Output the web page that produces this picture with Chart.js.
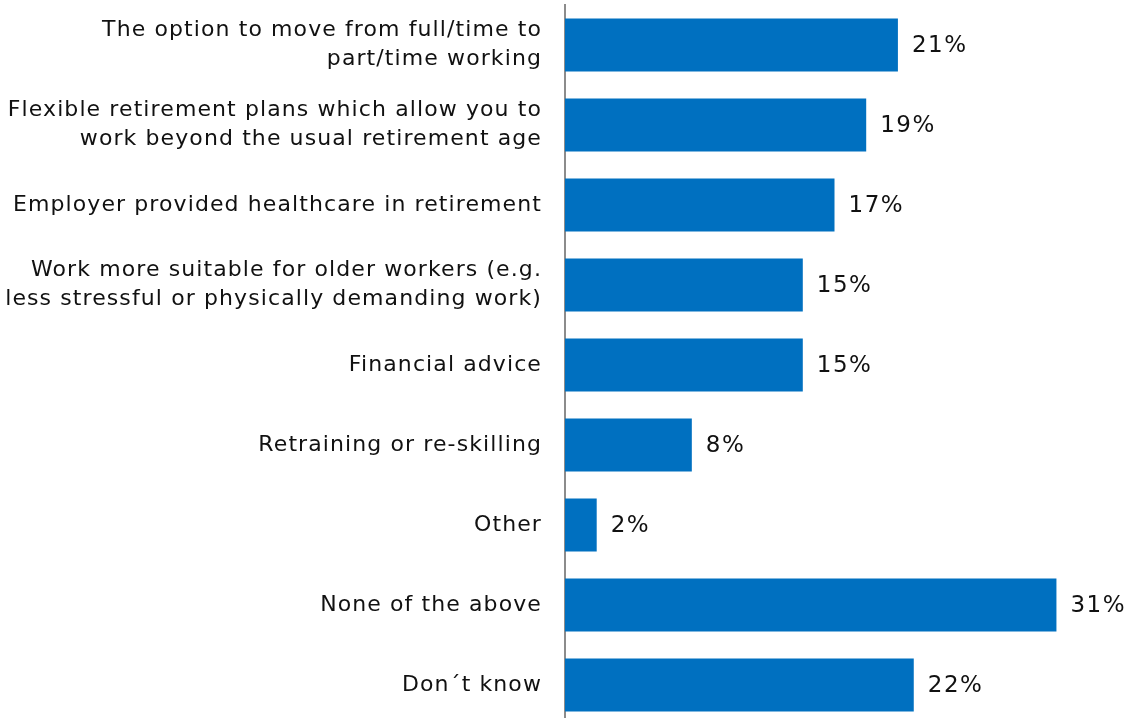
<!DOCTYPE html>
<html><head><meta charset="utf-8">
<script src="https://cdn.jsdelivr.net/npm/chart.js@4/dist/chart.umd.min.js"></script>
<style>html,body{margin:0;padding:0;background:#fff;overflow:hidden}</style>
</head><body>
<canvas id="c" width="1131" height="730"></canvas>
<script>
const categories = [
  ["The option to move from full/time to", "part/time working"],
  ["Flexible retirement plans which allow you to", "work beyond the usual retirement age"],
  "Employer provided healthcare in retirement",
  ["Work more suitable for older workers (e.g.", "less stressful or physically demanding work)"],
  "Financial advice",
  "Retraining or re-skilling",
  "Other",
  "None of the above",
  "Don\u00b4t know"
];
const values = [21, 19, 17, 15, 15, 8, 2, 31, 22];
const valueLabels = ["21%", "19%", "17%", "15%", "15%", "8%", "2%", "31%", "22%"];

const FONT = "'DejaVu Sans', Verdana, sans-serif";
const SPACING = '1.1px';

const spacingPlugin = {
  id: 'spacing',
  beforeLayout(chart) { chart.ctx.letterSpacing = SPACING; },
  beforeDraw(chart) { chart.ctx.letterSpacing = SPACING; }
};

const valuePlugin = {
  id: 'valueLabels',
  afterDatasetsDraw(chart) {
    const ctx = chart.ctx;
    const meta = chart.getDatasetMeta(0);
    ctx.save();
    ctx.letterSpacing = '1.5px';
    ctx.font = "23px " + FONT;
    ctx.fillStyle = "#111111";
    ctx.textAlign = "left";
    ctx.textBaseline = "middle";
    meta.data.forEach((bar, i) => {
      ctx.fillText(valueLabels[i], bar.x + 14, bar.y + 1);
    });
    ctx.restore();
  }
};

new Chart(document.getElementById('c'), {
  type: 'bar',
  data: {
    labels: categories,
    datasets: [{
      data: values,
      backgroundColor: '#0070C0',
      borderWidth: 0,
      barPercentage: 0.66,
      categoryPercentage: 1.0
    }]
  },
  options: {
    indexAxis: 'y',
    responsive: false,
    animation: false,
    layout: { padding: { left: 0, top: 5, bottom: 5, right: 27 } },
    plugins: { legend: { display: false }, tooltip: { enabled: false } },
    scales: {
      x: {
        display: false,
        min: 0,
        max: 34
      },
      y: {
        grid: { display: false, drawTicks: false },
        border: { display: true, color: '#8c8c8c', width: 2 },
        ticks: {
          padding: 23,
          color: '#111111',
          font: { family: FONT, size: 22, lineHeight: 1.3 },
          autoSkip: false
        },
        afterFit(scale) {
          scale.width = 565;
          scale.paddingTop = 0;
          scale.paddingBottom = 0;
        }
      }
    }
  },
  plugins: [spacingPlugin, valuePlugin]
});
</script>
</body></html>
